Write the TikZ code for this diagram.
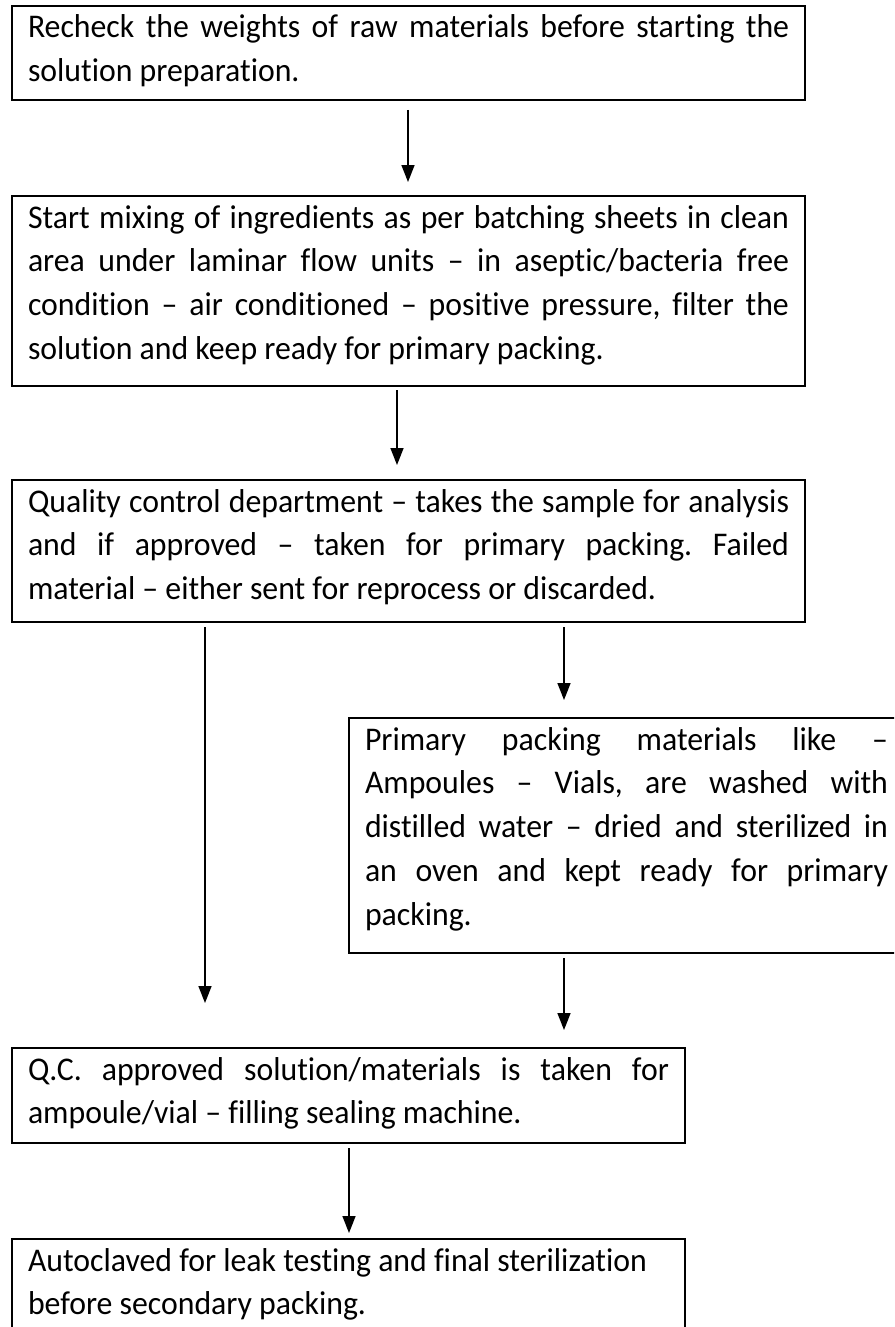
\documentclass[tikz,border=0pt]{standalone}
\usepackage{fontspec}
\setmainfont{Carlito}[Ligatures=NoCommon, FakeStretch=0.96]
\usetikzlibrary{arrows.meta}
\newcommand\bt[2]{\noindent\rule{0pt}{16pt}#2\rule[-#1]{0pt}{#1}}
\hyphenpenalty=10000 \exhyphenpenalty=10000 \tolerance=10000 \hbadness=10000 \emergencystretch=0pt
\frenchspacing
\begin{document}
\begin{tikzpicture}[x=0.5pt,y=-0.5pt,
  box/.style={draw, line width=1.2pt, anchor=north west, inner xsep=8pt, inner ysep=0pt,
    outer sep=0pt, align=justify, font=\fontsize{16.55pt}{21.9pt}\selectfont\frenchspacing},
  arr/.style={line width=0.8pt, -{Triangle[width=6.5pt,length=8.5pt]}}]
\path[use as bounding box, clip] (0,0) rectangle (894,1327);
\fill[white] (0,0) rectangle (894,1327);

\node[box, text width=380.5pt] (b1) at (12,6)
  {\bt{9.1pt}{Recheck the weights of raw materials before starting the\linebreak solution preparation.}};
\node[box, text width=380.5pt] (b2) at (12,196)
  {\bt{13.3pt}{Start mixing of ingredients as per batching sheets in clean\linebreak area under laminar flow units – in aseptic/bacteria free\linebreak condition – air conditioned – positive pressure, filter the\linebreak solution and keep ready for primary packing.}};
\node[box, text width=380.5pt] (b3) at (12,480)
  {\bt{11.2pt}{Quality control department – takes the sample for analysis\linebreak and if approved – taken for primary packing. Failed\linebreak material – either sent for reprocess or discarded.}};
\node[box, text width=261.5pt] (b4) at (349,718)
  {\bt{13.9pt}{Primary packing materials like –\linebreak Ampoules – Vials, are washed with\linebreak distilled water – dried and sterilized in\linebreak an oven and kept ready for primary\linebreak packing.}};
\node[box, text width=320.5pt] (b5) at (12,1048)
  {\bt{9.6pt}{Q.C. approved solution/materials is taken for\linebreak ampoule/vial – filling sealing machine.}};
\node[box, text width=320.5pt] (b6) at (12,1239)
  {\bt{12pt}{Autoclaved for leak testing and final sterilization\par\noindent before secondary packing.}};

\draw[arr] ([shift={(-0.5,10)}]b1.south) -- ([shift={(-0.5,-14)}]b2.north);
\draw[arr] ([shift={(-11.5,4)}]b2.south) -- ([shift={(-11.5,-15)}]b3.north);
\draw[arr] ([shift={(-203.5,5)}]b3.south) -- ([shift={(-143.5,-45)}]b5.north);
\draw[arr] ([shift={(155.5,5)}]b3.south) -- ([shift={(-62.5,-18)}]b4.north);
\draw[arr] ([shift={(-62.5,5)}]b4.south) -- ([shift={(215.5,-18)}]b5.north);
\draw[arr] ([shift={(0.5,5)}]b5.south) -- ([shift={(0.5,-6)}]b6.north);
\end{tikzpicture}
\end{document}
